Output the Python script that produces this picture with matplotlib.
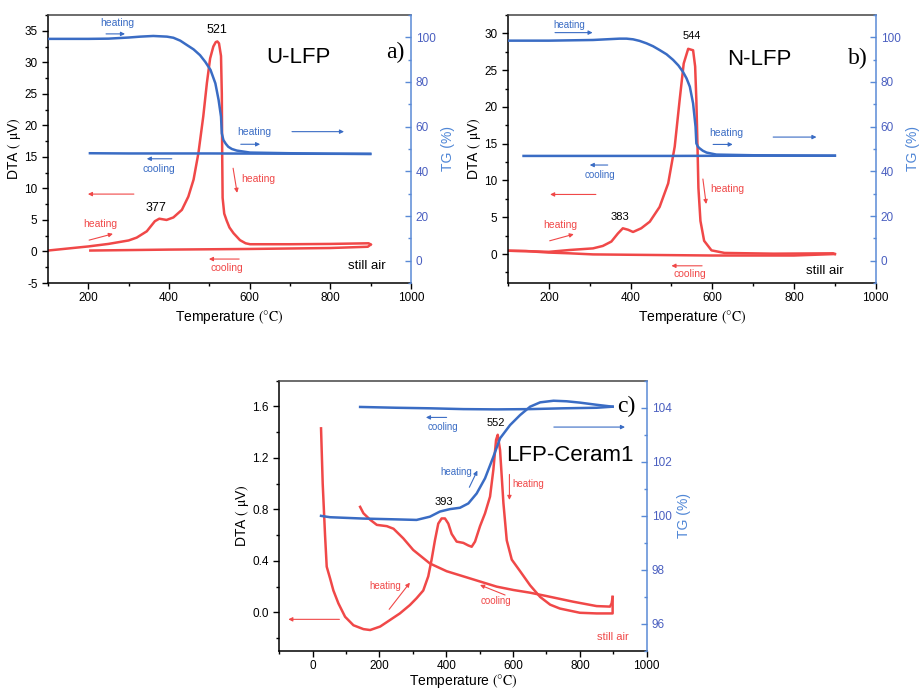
import matplotlib.pyplot as plt
from matplotlib.ticker import MultipleLocator, FormatStrFormatter

plt.rcParams['font.family'] = ['Liberation Sans', 'DejaVu Sans']
plt.rcParams['mathtext.fontset'] = 'stix'

RED = '#f04848'
BLUE = '#3a6cc4'
SPINE_BLUE = '#5a8ad6'
TICK_BLUE = '#4a5fc0'

# ---- a) U-LFP ----
a_heat_T = [100, 200, 250, 300, 320, 345, 365, 376, 394, 411, 432, 448, 461, 473, 485, 494, 502,
            510, 516, 520, 524, 529, 531, 532, 533, 537, 543, 550, 560, 576, 590, 601, 700, 800,
            895, 900]
a_heat_dta = [0.15, 0.8, 1.2, 1.75, 2.2, 3.2, 4.8, 5.2, 5.0, 5.4, 6.6, 8.7, 11.4, 15.6, 21.4,
              26.7, 30.6, 32.5, 33.2, 33.3, 33.0, 31.0, 25.0, 15.0, 8.5, 6.0, 4.9, 3.8, 2.9, 1.8,
              1.3, 1.15, 1.15, 1.2, 1.3, 1.1]
a_cool_T = [900, 893, 800, 600, 400, 205]
a_cool_dta = [1.1, 0.75, 0.55, 0.4, 0.3, 0.15]
a_tg_heat_T = [100, 200, 250, 300, 329, 361, 395, 411, 428, 444, 461, 477, 490, 503, 515, 523,
               529, 531, 535, 541, 547, 556, 568, 601, 700, 800, 899]
a_tg_heat = [99.3, 99.3, 99.4, 99.9, 100.3, 100.6, 100.3, 99.8, 98.5, 96.6, 94.6, 92.0, 89.0,
             85.4, 79.4, 72.0, 64.5, 57.0, 54.0, 52.3, 51.0, 50.0, 49.3, 48.4, 48.1, 47.9, 47.8]
a_tg_cool_T = [899, 700, 500, 300, 204]
a_tg_cool = [47.8, 47.9, 48.0, 48.0, 48.1]

# ---- b) N-LFP ----
b_heat_T = [100, 144, 200, 251, 308, 332, 353, 369, 381, 394, 406, 426, 447, 471, 492, 508,
            520, 530, 541, 553, 558, 561, 564, 566, 571, 580, 598, 630, 750, 896, 900]
b_heat_dta = [0.45, 0.4, 0.3, 0.55, 0.77, 1.1, 1.7, 2.8, 3.5, 3.3, 3.0, 3.5, 4.4, 6.4, 9.6, 14.6,
              20.9, 25.9, 27.9, 27.7, 25.5, 20.9, 14.1, 9.0, 4.5, 1.8, 0.5, 0.15, 0.05, 0.1, 0.0]
b_cool_T = [900, 800, 600, 400, 308, 250, 200, 144, 100]
b_cool_dta = [0.0, -0.2, -0.2, -0.1, -0.05, 0.1, 0.2, 0.4, 0.45]
b_tg_heat_T = [100, 200, 308, 340, 373, 390, 406, 422, 439, 455, 471, 488, 504, 517, 528, 537,
               545, 553, 559, 561, 565, 569, 577, 586, 610, 700, 900]
b_tg_heat = [98.5, 98.5, 98.8, 99.1, 99.4, 99.4, 99.1, 98.4, 97.3, 96.0, 94.3, 92.4, 89.9, 87.4,
             84.6, 81.6, 77.9, 70.4, 60.0, 52.5, 51.0, 50.3, 49.2, 48.4, 47.5, 47.2, 47.0]
b_tg_cool_T = [900, 700, 500, 300, 138]
b_tg_cool = [47.0, 47.0, 46.9, 46.9, 46.9]

# ---- c) LFP-Ceram1 ----
c_heat_T = [25, 30, 37, 42, 52, 62, 77, 97, 122, 152, 172, 202, 231, 261, 291, 311, 331, 346,
            356, 366, 376, 386, 396, 406, 416, 431, 451, 466, 476, 486, 501, 516, 531, 541, 549,
            554, 561, 571, 581, 596, 621, 651, 681, 711, 740, 800, 850, 898, 898]
c_heat_dta = [1.43, 1.0, 0.6, 0.355, 0.265, 0.17, 0.07, -0.034, -0.1, -0.13, -0.137, -0.11,
              -0.06, -0.008, 0.057, 0.11, 0.17, 0.28, 0.41, 0.56, 0.69, 0.73, 0.73, 0.69, 0.61,
              0.55, 0.54, 0.52, 0.51, 0.55, 0.67, 0.77, 0.9, 1.11, 1.34, 1.38, 1.26, 0.85, 0.56,
              0.41, 0.32, 0.21, 0.12, 0.06, 0.03, -0.003, -0.008, -0.008, 0.12]
c_cool_T = [898, 895, 890, 850, 780, 700, 651, 601, 551, 501, 451, 401, 351, 301, 271, 242,
            222, 192, 172, 152, 142]
c_cool_dta = [0.12, 0.07, 0.045, 0.049, 0.083, 0.127, 0.153, 0.174, 0.2, 0.24, 0.28, 0.32, 0.38,
              0.485, 0.576, 0.65, 0.67, 0.68, 0.72, 0.77, 0.82]
c_tg_heat_T = [25, 52, 152, 251, 311, 351, 381, 411, 441, 466, 491, 516, 541, 561, 591, 621, 651,
               681, 721, 760, 800, 850, 898]
c_tg_heat = [100.0, 99.95, 99.9, 99.87, 99.85, 99.97, 100.16, 100.25, 100.3, 100.46, 100.83,
             101.39, 102.19, 102.87, 103.36, 103.73, 104.04, 104.2, 104.26, 104.24, 104.19,
             104.11, 104.04]
c_tg_cool_T = [898, 850, 750, 651, 551, 451, 351, 251, 142]
c_tg_cool = [104.04, 104.0, 103.98, 103.95, 103.94, 103.95, 103.98, 104.0, 104.03]


def make_panel(rect, xlim, ylim, tglim, xmaj, ymaj, tgmaj, yfmt, xpad=3):
    ax = fig.add_axes(rect)
    ax2 = ax.twinx()
    ax.set_xlim(*xlim)
    ax.set_ylim(*ylim)
    ax2.set_ylim(*tglim)
    ax.xaxis.set_major_locator(MultipleLocator(xmaj))
    ax.xaxis.set_minor_locator(MultipleLocator(xmaj / 2))
    ax.yaxis.set_major_locator(MultipleLocator(ymaj))
    ax.yaxis.set_minor_locator(MultipleLocator(ymaj / 2))
    ax.yaxis.set_major_formatter(FormatStrFormatter(yfmt))
    ax2.yaxis.set_major_locator(MultipleLocator(tgmaj))
    ax2.yaxis.set_minor_locator(MultipleLocator(tgmaj / 2))
    ax.tick_params(which='both', direction='out', top=False, right=False, labelsize=8.5)
    ax.tick_params(which='major', length=4, width=1)
    ax.tick_params(which='minor', length=2.5, width=1)
    ax.tick_params(axis='x', pad=2.5)
    ax2.tick_params(which='both', direction='in', colors=SPINE_BLUE, labelcolor=TICK_BLUE,
                    labelsize=8.5)
    ax2.tick_params(which='major', length=4, width=1)
    ax2.tick_params(which='minor', length=2.5, width=1)
    for s in ['left', 'bottom']:
        ax.spines[s].set_linewidth(1.1)
    ax.spines['top'].set_color('#444444')
    ax.spines['top'].set_linewidth(1.1)
    ax.spines['right'].set_visible(False)
    ax2.spines['right'].set_color(SPINE_BLUE)
    ax2.spines['right'].set_linewidth(1.1)
    for s in ['left', 'top', 'bottom']:
        ax2.spines[s].set_visible(False)
    ax.set_xlabel(r"Temperature $(\mathrm{°C})$", fontsize=10, labelpad=xpad)
    ax.set_ylabel(r"DTA $($ $\mathrm{\mu}$V$)$", fontsize=10, labelpad=1)
    ax2.set_ylabel("TG (%)", fontsize=10, color='#4f86d6', labelpad=4)
    return ax, ax2


def arrow(ax, x0, y0, x1, y1, color):
    ax.annotate("", xy=(x1, y1), xytext=(x0, y0),
                arrowprops=dict(arrowstyle='-|>', color=color, lw=0.8,
                                mutation_scale=6, shrinkA=0, shrinkB=0))


fig = plt.figure(figsize=(9.19, 6.93), dpi=100)

# panel a
ax, ax2 = make_panel([0.0522, 0.5916, 0.395, 0.3868], (100, 1000), (-5, 37.5), (-10, 110),
                     200, 5, 20, '%g')
ax.plot(a_heat_T, a_heat_dta, color=RED, lw=1.8)
ax.plot(a_cool_T, a_cool_dta, color=RED, lw=1.8)
ax2.plot(a_tg_heat_T, a_tg_heat, color=BLUE, lw=1.8)
ax2.plot(a_tg_cool_T, a_tg_cool, color=BLUE, lw=1.8)
ax.text(271, 36.2, "heating", color=BLUE, fontsize=7.5, ha='center', va='center')
arrow(ax, 244, 34.5, 291, 34.5, BLUE)
ax.text(519, 35.1, "521", fontsize=9, ha='center', va='center')
ax.text(720, 30.7, "U-LFP", fontsize=16, ha='center', va='center')
ax.text(960, 31.5, "a)", fontsize=17, ha='center', va='center', family='Liberation Serif')
ax.text(611, 19.0, "heating", color=BLUE, fontsize=7.5, ha='center', va='center')
arrow(ax, 578, 17.0, 626, 17.0, BLUE)
arrow(ax, 705, 19.0, 834, 19.0, BLUE)
ax.text(375, 13.1, "cooling", color=BLUE, fontsize=7.5, ha='center', va='center')
arrow(ax, 407, 14.7, 345, 14.7, BLUE)
ax.text(621, 11.5, "heating", color=RED, fontsize=7.5, ha='center', va='center')
arrow(ax, 559, 13.2, 569, 9.3, RED)
arrow(ax, 313, 9.1, 199, 9.1, RED)
ax.text(368, 6.9, "377", fontsize=9, ha='center', va='center')
ax.text(229, 4.4, "heating", color=RED, fontsize=7.5, ha='center', va='center')
arrow(ax, 202, 1.8, 261, 2.8, RED)
ax.text(544, -2.6, "cooling", color=RED, fontsize=7.5, ha='center', va='center')
arrow(ax, 574, -1.2, 499, -1.2, RED)
ax.text(891, -2.3, "still air", fontsize=9.5, ha='center', va='center')

# panel b
ax, ax2 = make_panel([0.5528, 0.5916, 0.4001, 0.3868], (100, 1000), (-3.94, 32.5), (-10, 110),
                     200, 5, 20, '%g')
ax.plot(b_heat_T, b_heat_dta, color=RED, lw=1.8)
ax.plot(b_cool_T, b_cool_dta, color=RED, lw=1.8)
ax2.plot(b_tg_heat_T, b_tg_heat, color=BLUE, lw=1.8)
ax2.plot(b_tg_cool_T, b_tg_cool, color=BLUE, lw=1.8)
ax.text(249, 31.1, "heating", color=BLUE, fontsize=7, ha='center', va='center')
arrow(ax, 215, 30.1, 307, 30.1, BLUE)
ax.text(550, 29.6, "544", fontsize=8, ha='center', va='center')
ax.text(714, 26.5, "N-LFP", fontsize=16, ha='center', va='center')
ax.text(955, 26.6, "b)", fontsize=17, ha='center', va='center', family='Liberation Serif')
ax.text(635, 16.5, "heating", color=BLUE, fontsize=7.5, ha='center', va='center')
arrow(ax, 602, 14.9, 650, 14.9, BLUE)
arrow(ax, 749, 15.9, 855, 15.9, BLUE)
ax.text(325, 10.8, "cooling", color=BLUE, fontsize=7, ha='center', va='center')
arrow(ax, 344, 12.1, 300, 12.1, BLUE)
ax.text(637, 8.8, "heating", color=RED, fontsize=7.5, ha='center', va='center')
arrow(ax, 577, 10.2, 585, 6.8, RED)
arrow(ax, 315, 8.1, 203, 8.1, RED)
ax.text(375, 5.0, "383", fontsize=8, ha='center', va='center')
ax.text(229, 4.0, "heating", color=RED, fontsize=7.5, ha='center', va='center')
arrow(ax, 202, 1.8, 261, 2.7, RED)
ax.text(545, -2.7, "cooling", color=RED, fontsize=7.5, ha='center', va='center')
arrow(ax, 575, -1.6, 500, -1.6, RED)
ax.text(876, -2.3, "still air", fontsize=9.5, ha='center', va='center')

# panel c
ax, ax2 = make_panel([0.3039, 0.0606, 0.3998, 0.390], (-100, 1000), (-0.3, 1.8), (95, 105),
                     200, 0.4, 2, '%.1f', xpad=0)
ax.plot(c_heat_T, c_heat_dta, color=RED, lw=1.8)
ax.plot(c_cool_T, c_cool_dta, color=RED, lw=1.8)
ax2.plot(c_tg_heat_T, c_tg_heat, color=BLUE, lw=1.8)
ax2.plot(c_tg_cool_T, c_tg_cool, color=BLUE, lw=1.8)
ax.text(940, 1.60, "c)", fontsize=17, ha='center', va='center', family='Liberation Serif')
ax.text(391, 1.437, "cooling", color=BLUE, fontsize=7, ha='center', va='center')
arrow(ax, 401, 1.515, 339, 1.515, BLUE)
ax.text(548, 1.475, "552", fontsize=8, ha='center', va='center')
arrow(ax, 722, 1.44, 935, 1.44, BLUE)
ax.text(770, 1.216, "LFP-Ceram1", fontsize=16, ha='center', va='center')
ax.text(431, 1.094, "heating", color=BLUE, fontsize=7, ha='center', va='center')
arrow(ax, 469, 0.972, 493, 1.102, BLUE)
ax.text(644, 0.998, "heating", color=RED, fontsize=7, ha='center', va='center')
arrow(ax, 589, 1.072, 589, 0.874, RED)
ax.text(394, 0.861, "393", fontsize=8, ha='center', va='center')
ax.text(217, 0.208, "heating", color=RED, fontsize=7, ha='center', va='center')
arrow(ax, 229, 0.024, 291, 0.231, RED)
ax.text(548, 0.09, "cooling", color=RED, fontsize=7, ha='center', va='center')
arrow(ax, 576, 0.135, 501, 0.213, RED)
arrow(ax, 80, -0.054, -73, -0.054, RED)
ax.text(898, -0.189, "still air", color=RED, fontsize=8, ha='center', va='center')

fig.savefig("out.png", dpi=100)
